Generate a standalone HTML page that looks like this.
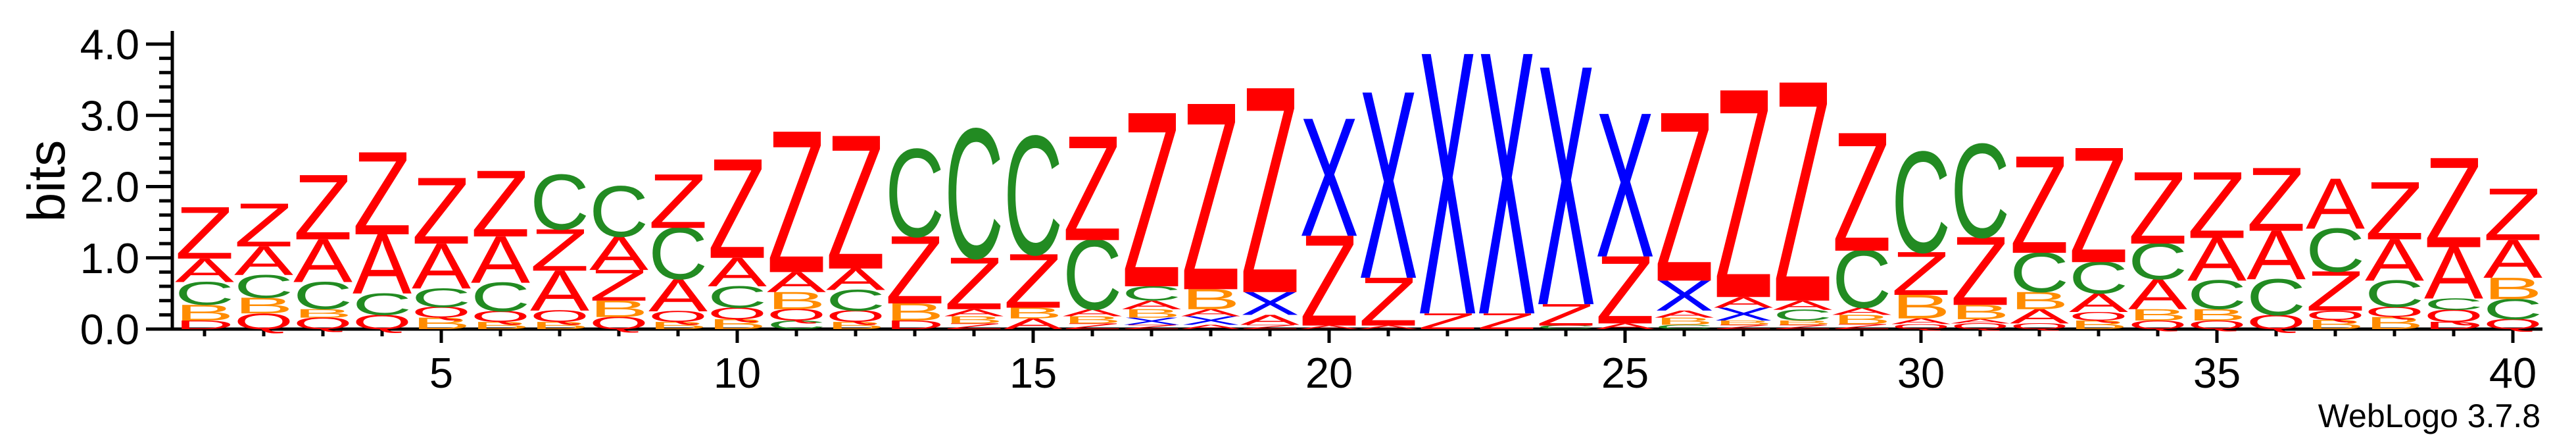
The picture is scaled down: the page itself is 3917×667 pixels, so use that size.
<!DOCTYPE html>
<html><head><meta charset="utf-8"><style>
html,body{margin:0;padding:0;background:#fff;}
svg{display:block;}
text{font-family:"Liberation Sans",Arial,sans-serif;}
</style></head><body>
<svg id="chart" width="3917" height="667" viewBox="0 0 3917 667" xmlns="http://www.w3.org/2000/svg">
<g id="axes"></g>
<g id="stacks"></g>
<text transform="translate(98,275) rotate(-90)" text-anchor="middle" font-size="80">bits</text>
<text x="3863" y="649" text-anchor="end" font-size="50">WebLogo 3.7.8</text>
</svg>
<script>
// Data: per-position stacks (bottom to top)
const positions = [1,2,3,4,5,6,7,8,9,10,11,12,13,14,15,16,17,18,19,20,21,22,23,24,25,26,27,28,29,30,31,32,33,34,35,36,37,38,39,40];
const stackLetters = [
 ["D","B","C","A","Z"],["Q","B","C","A","Z"],["Q","B","C","A","Z"],["Q","C","A","Z"],
 ["B","Q","C","A","Z"],["B","Q","C","A","Z"],["B","Q","A","Z","C"],["Q","B","Z","A","C"],
 ["B","Q","A","C","Z"],["B","Q","C","A","Z"],["C","Q","B","A","Z"],["B","Q","C","A","Z"],
 ["D","B","Z","C"],["Z","B","A","Z","C"],["A","B","Z","C"],["Z","B","A","C","Z"],
 ["Z","X","B","A","C","Z"],["A","X","A","B","Z"],["Z","A","X","Z"],["A","Z","X"],
 ["A","Z","X"],["Z","X"],["Z","X"],["C","Z","X"],
 ["A","Z","X"],["C","B","A","X","Z"],["Z","B","X","A","Z"],["Z","B","C","A","Z"],
 ["Z","B","A","C","Z"],["Q","A","B","Z","C"],["Q","A","B","Z","C"],["Q","A","B","C","Z"],
 ["B","Q","A","C","Z"],["Q","B","A","C","Z"],["Q","B","C","A","Z"],["Q","C","A","Z"],
 ["B","Q","Z","C","A"],["B","Q","C","A","Z"],["D","Q","C","A","Z"],["Q","C","B","A","Z"]
];
const stackBits = [
 [0.12,0.22,0.32,0.33,0.72],[0.22,0.22,0.32,0.4,0.6],[0.16,0.12,0.38,0.6,0.9],[0.2,0.3,0.83,1.15],
 [0.16,0.15,0.26,0.63,0.92],[0.1,0.15,0.4,0.65,0.92],[0.1,0.16,0.56,0.58,0.76],[0.17,0.23,0.43,0.47,0.7],
 [0.1,0.15,0.45,0.72,0.75],[0.14,0.16,0.3,0.4,1.38],[0.12,0.16,0.24,0.28,1.97],[0.1,0.16,0.29,0.3,1.86],
 [0.12,0.24,0.94,1.22],[0.08,0.1,0.1,0.72,1.8],[0.15,0.15,0.75,1.65],[0.08,0.1,0.1,0.97,1.45],
 [0.06,0.1,0.12,0.12,0.2,2.43],[0.06,0.12,0.1,0.28,2.6],[0.06,0.14,0.32,2.86],[0.05,1.26,1.64],
 [0.05,0.67,2.6],[0.22,3.64],[0.22,3.64],[0.05,0.3,3.32],
 [0.08,0.94,2.0],[0.06,0.1,0.1,0.42,2.35],[0.06,0.06,0.18,0.15,2.9],[0.06,0.06,0.15,0.13,3.06],
 [0.07,0.13,0.1,0.8,1.65],[0.07,0.08,0.33,0.6,1.4],[0.08,0.06,0.2,0.95,1.3],[0.08,0.2,0.24,0.55,1.35],
 [0.12,0.12,0.26,0.44,1.6],[0.12,0.16,0.42,0.5,1.0],[0.12,0.16,0.4,0.6,0.92],[0.2,0.5,0.68,0.88],
 [0.13,0.13,0.55,0.6,0.7],[0.17,0.14,0.37,0.58,0.8],[0.1,0.17,0.16,0.72,1.25],[0.14,0.28,0.3,0.53,0.72]
];
const yTicks = [0,1,2,3,4];
const yTickLabels = ["0.0","1.0","2.0","3.0","4.0"];
const xTickLabels = [5,10,15,20,25,30,35,40];

const NS = "http://www.w3.org/2000/svg";
const X0 = 311, DX = 90, Y0 = 500, PPB = 108.25;
const xScale = p => X0 + (p - 1) * DX;
const yScale = b => Y0 - b * PPB;
const colors = {Z:"#ff0000",A:"#ff0000",Q:"#ff0000",D:"#ff0000",X:"#0000ff",C:"#228b22",B:"#ff8c00",T:"#800080"};

function mk(tag, attrs, parent) {
  const e = document.createElementNS(NS, tag);
  for (const k in attrs) e.setAttribute(k, attrs[k]);
  parent.appendChild(e);
  return e;
}
const axes = document.getElementById('axes');
const stacks = document.getElementById('stacks');

// y axis
let el = mk('line', {x1:262, y1:47, x2:262, y2:Y0+2, stroke:'#000','stroke-width':5}, axes);


for (let v = 0; v <= 20; v++) {
  const b = v * 0.2, y = yScale(b), major = v % 5 === 0;
  el = mk('line', {x1: major ? 222 : 242, y1:y, x2:262, y2:y, stroke:'#000','stroke-width':5}, axes);
  
  
}
yTicks.forEach((b, i) => {
  el = mk('text', {x:212, y:yScale(b)+23, 'text-anchor':'end', 'font-size':65}, axes);
  el.textContent = yTickLabels[i];
  
  
});
// x axis
el = mk('line', {x1:260, y1:Y0, x2:3866, y2:Y0, stroke:'#000','stroke-width':5}, axes);


positions.forEach(p => {
  const x = xScale(p), major = p % 5 === 0;
  el = mk('line', {x1:x, y1:Y0, x2:x, y2: major ? 521 : 511, stroke:'#000','stroke-width':5}, axes);
  
  
});
xTickLabels.forEach(p => {
  el = mk('text', {x:xScale(p), y:589, 'text-anchor':'middle', 'font-size':65}, axes);
  el.textContent = String(p);
  
  
});

// stacks
const CAP = 68.8;
positions.forEach((p, i) => {
  const g = mk('g', {}, stacks);
  
  
  let base = 0;
  const xc = xScale(p);
  stackLetters[i].forEach((L, j) => {
    const h = stackBits[i][j];
    const yb = yScale(base), ht = h * PPB;
    const sy = ht / CAP;
    const t = mk('text', {
      transform: 'translate(' + xc + ',' + yb + ') scale(1,' + sy.toFixed(4) + ')',
      'text-anchor':'middle', 'font-size':100, textLength:90, lengthAdjust:'spacingAndGlyphs',
      fill: colors[L] || '#000'
    }, g);
    t.textContent = L;
    
    
    base += h;
  });
});
</script>
</body></html>
